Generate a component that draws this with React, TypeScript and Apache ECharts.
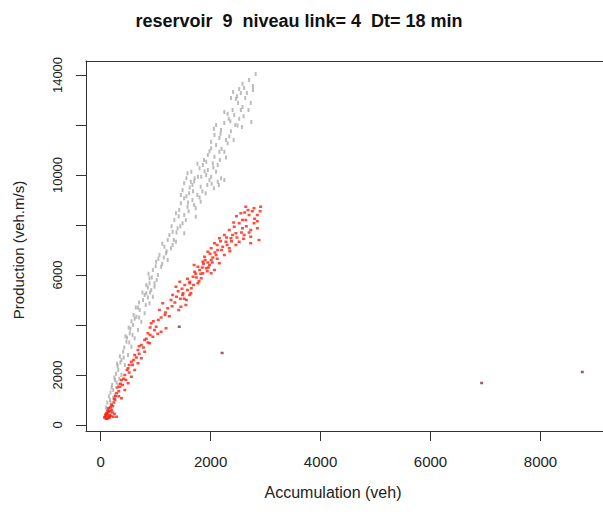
import React, { useEffect, useRef } from "react";
import * as echarts from "echarts";

const titleText = "reservoir  9  niveau link= 4  Dt= 18 min";
const xTitle = "Accumulation (veh)";
const yTitle = "Production (veh.m/s)";
const xTickValues = [0, 2000, 4000, 6000, 8000];
const yTickValues = [0, 2000, 4000, 6000, 8000, 10000, 12000, 14000];
const yLabelValues = [0, 2000, 6000, 10000, 14000];

// gray series: [accumulation, production]
const grayPoints: [number, number][] = [
  [2820, 14040], [2770, 13560], [2770, 13400], [2610, 13480], [2660, 13280], [2520, 13440],
  [2550, 13280], [2410, 13320], [2370, 13080], [2460, 13040], [2500, 12880], [2730, 12880],
  [2580, 12720], [2550, 12600], [2400, 12600], [2250, 12520], [2310, 12450], [2430, 12400],
  [2520, 12250], [2740, 12120], [2570, 11920], [2490, 11980], [2250, 12080], [2100, 12000],
  [2190, 11800], [2370, 11750], [2070, 11600], [2160, 11480], [2340, 11540], [2010, 11330],
  [2100, 11200], [2310, 11270], [2010, 11070], [2160, 10930], [1950, 10800], [2070, 10730],
  [2250, 10930], [1920, 10530], [2040, 10470], [2130, 10400], [1860, 10400], [1800, 10270],
  [1950, 10200], [2100, 10130], [1650, 10130], [1830, 9930], [2010, 9930], [2190, 9870],
  [1560, 9870], [1710, 9870], [1580, 10070], [1770, 9930], [1920, 10000], [1980, 9800],
  [2130, 9730], [2250, 9800], [1520, 9670], [1670, 9600], [1820, 9530], [2060, 9470],
  [1490, 9400], [1610, 9270], [1760, 9200], [1910, 9270], [1520, 9070], [1670, 9000],
  [1820, 8930], [1460, 8870], [1580, 8730], [1730, 8670], [1370, 8470], [1520, 8400],
  [1730, 8330], [1340, 8200], [1490, 8070], [1400, 7870], [1310, 7730], [1520, 7670],
  [1220, 7400], [1370, 7330], [1160, 7130], [1280, 7070], [1190, 6870], [1070, 6800],
  [1220, 6600], [1010, 6530], [1100, 6330], [950, 6200], [1040, 6000], [890, 5870],
  [980, 5670], [830, 5600], [920, 5400], [890, 5670], [980, 5530], [830, 5270],
  [950, 5130], [770, 5000], [890, 4870], [710, 4600], [800, 4470], [650, 4330],
  [740, 4130], [590, 4000], [680, 3800], [530, 3670], [620, 3470], [470, 3330],
  [560, 3130], [410, 2930], [500, 2800], [380, 2600], [440, 2400], [320, 2200],
  [380, 2000], [260, 1800], [320, 1600], [230, 1400], [260, 1200], [170, 1000],
  [200, 800], [140, 600], [1460, 9200], [1640, 9730], [1880, 10600], [2200, 11050],
  [2360, 12150], [2630, 13080], [1430, 8600], [1290, 7950], [1250, 7600], [1120, 7250],
  [1050, 6650], [870, 6050], [760, 5300], [700, 4900], [640, 4700], [560, 4150],
  [510, 3900], [450, 3550], [350, 2750], [300, 2450], [280, 2050], [210, 1600],
  [180, 1300], [120, 900], [110, 500], [160, 700], [600, 4400], [860, 5100],
  [1590, 8900], [1680, 9350], [1940, 9600], [2050, 10300], [1760, 10450], [2280, 11400],
  [2700, 13800], [2580, 13650], [2480, 13150], [2690, 12600], [2330, 12250], [2450, 12000],
  [2600, 12350], [2180, 11650], [2420, 11400], [2060, 11850], [2280, 10700], [1980, 10950],
  [2170, 10600], [1890, 10150], [2020, 9650], [1700, 9750], [1850, 9350], [2150, 9600],
  [1620, 9500], [1560, 9150], [1800, 9100], [1700, 8800], [1420, 8350], [1600, 8550],
  [1550, 8200], [1380, 7700], [1450, 7950], [1330, 7400], [1200, 6950], [1310, 7200],
  [1150, 6700], [1000, 6350], [1120, 6450], [930, 5900], [1020, 5800], [860, 5500],
  [800, 5200], [900, 5300], [680, 4700], [820, 4800], [620, 4250], [700, 4300],
  [540, 3850], [480, 3500], [580, 3600], [430, 3100], [520, 3300], [360, 2500],
  [420, 2700], [310, 2350], [250, 1900], [340, 1850], [200, 1500], [290, 1700],
  [150, 1150], [230, 1100], [100, 700], [130, 400], [90, 300], [180, 900],
];

// red series: [accumulation, production]
const redPoints: [number, number][] = [
  [2910, 8730], [2790, 8670], [2640, 8730], [2550, 8470], [2700, 8400], [2850, 8400],
  [2640, 8200], [2790, 8070], [2520, 8070], [2430, 7930], [2580, 7870], [2730, 7800],
  [2850, 7870], [2340, 7800], [2460, 7670], [2610, 7600], [2250, 7600], [2370, 7470],
  [2730, 7530], [2880, 7400], [2160, 7470], [2280, 7330], [2520, 7330], [2070, 7270],
  [2220, 7130], [2730, 7270], [2010, 7070], [2130, 7000], [2340, 7070], [1950, 6930],
  [2100, 6800], [2250, 6800], [1890, 6730], [2010, 6600], [1860, 6530], [1980, 6400],
  [2160, 6470], [1770, 6330], [1920, 6270], [2070, 6200], [1710, 6130], [1860, 6070],
  [2010, 6070], [1680, 5930], [1830, 5870], [1620, 5730], [1770, 5670], [1530, 5600],
  [1440, 5730], [1650, 5470], [1500, 5270], [1620, 5200], [1560, 5000], [1380, 5130],
  [1370, 5530], [1620, 5670], [1310, 5200], [1490, 5200], [1640, 5270], [1550, 4800],
  [1460, 4730], [1130, 4870], [1220, 4670], [1070, 4600], [920, 4070], [1010, 3930],
  [1190, 3870], [1100, 3730], [860, 3670], [950, 3530], [800, 3400], [740, 3200],
  [890, 3270], [680, 3000], [800, 2930], [620, 2800], [740, 2670], [560, 2530],
  [680, 2470], [500, 2270], [620, 2200], [440, 2000], [560, 1930], [380, 1800],
  [500, 1670], [350, 1530], [440, 1400], [290, 1270], [380, 1070], [260, 1000],
  [200, 800], [140, 670], [110, 470], [170, 400], [80, 330], [230, 330],
  [140, 530], [200, 600], [290, 330], [120, 250], [160, 300], [100, 380],
  [1900, 6600], [1950, 6500], [2040, 6700], [2080, 6900], [1850, 6300], [1800, 6200],
  [1940, 6150], [2200, 7000], [2300, 7200], [2400, 7600], [2480, 7500], [2580, 8200],
  [2680, 8600], [2650, 7950], [2420, 8100], [2120, 7200], [1990, 6850], [1740, 5900],
  [1700, 6400], [1580, 5400], [1450, 5050], [1350, 4900], [1280, 5000], [1170, 4400],
  [1050, 4200], [980, 3800], [900, 3900], [830, 3450], [700, 2850], [600, 2600],
  [520, 2100], [460, 1800], [400, 1600], [330, 1350], [270, 1150], [240, 900],
  [180, 700], [130, 580], [90, 420], [210, 500], [150, 350], [2900, 8550], [2800, 8250],
  [2470, 8350], [2620, 8500], [2760, 8550], [2850, 8150], [2700, 7700], [2560, 7700],
  [2380, 7350], [2460, 7200], [2600, 7450], [2180, 7350], [2290, 7500], [2350, 6950],
  [2030, 6500], [2120, 6650], [1870, 6450], [1820, 6050], [1960, 6300], [1730, 6050],
  [1790, 5750], [1690, 5600], [1580, 5850], [1480, 5450], [1410, 5350], [1520, 5050],
  [1420, 4600], [1300, 4750], [1180, 4500], [1250, 4350], [1100, 4300], [960, 4150],
  [1040, 3650], [900, 3600], [860, 3300], [780, 3100], [700, 3150], [650, 2700],
  [580, 2400], [520, 2400], [480, 2200], [420, 1850], [360, 1650], [300, 1500],
  [330, 1150], [250, 1050], [220, 750], [170, 550], [120, 450], [70, 300],
  [190, 350], [250, 450], [100, 250], [140, 300],
];

// darker isolated points: [accumulation, production]
const outlierPoints: [number, number][] = [
  [2210, 2880], [1430, 3930], [6930, 1680], [8760, 2120],
];

export default function App() {
  const ref = useRef<HTMLDivElement>(null);
  useEffect(() => {
    if (!ref.current) return;
    const chart = echarts.init(ref.current, null, { renderer: "svg" });
    const font = "Liberation Sans, Arial, sans-serif";
    const fmt = (v: number) => String(v);
    chart.setOption({
      animation: false,
      backgroundColor: "#ffffff",
      grid: {
        left: 86,
        top: 61,
        width: 520,
        height: 370,
      },
      xAxis: [
        {
          type: "value",
          position: "bottom",
          min: -266,
          max: 9137,
          splitLine: { show: false },
          axisLine: { show: true, onZero: false, lineStyle: { color: "#333", width: 1 } },
          axisTick: {
            show: true,
            length: 10,
            customValues: xTickValues,
            lineStyle: { color: "#333", width: 1 },
          },
          axisLabel: {
            customValues: xTickValues,
            formatter: fmt,
            margin: 23,
            fontSize: 15,
            fontFamily: font,
            color: "#222",
          },
        },
        {
          type: "value",
          position: "top",
          min: -266,
          max: 9137,
          splitLine: { show: false },
          axisLine: { show: true, onZero: false, lineStyle: { color: "#333", width: 1 } },
          axisTick: { show: false },
          axisLabel: { show: false },
        },
      ],
      yAxis: {
        type: "value",
        min: -240,
        max: 14560,
        splitLine: { show: false },
        axisLine: { show: true, onZero: false, lineStyle: { color: "#333", width: 1 } },
        axisTick: {
          show: true,
          length: 10,
          customValues: yTickValues,
          lineStyle: { color: "#333", width: 1 },
        },
        axisLabel: {
          customValues: yLabelValues,
          formatter: fmt,
          rotate: 90,
          margin: 22,
          fontSize: 13,
          fontFamily: font,
          color: "#222",
        },
      },
      graphic: [
        {
          type: "text",
          x: 299,
          y: 21,
          style: {
            text: titleText,
            textAlign: "center",
            textVerticalAlign: "middle",
            font: "bold 18px Liberation Sans, Arial, sans-serif",
            fill: "#111",
          },
        },
        {
          type: "text",
          x: 333,
          y: 492,
          style: {
            text: xTitle,
            textAlign: "center",
            textVerticalAlign: "middle",
            font: "16px Liberation Sans, Arial, sans-serif",
            fill: "#222",
          },
        },
        {
          type: "text",
          x: 18,
          y: 250,
          rotation: Math.PI / 2,
          style: {
            text: yTitle,
            textAlign: "center",
            textVerticalAlign: "middle",
            font: "15px Liberation Sans, Arial, sans-serif",
            fill: "#222",
          },
        },
      ],
      series: [
        {
          name: "gray",
          type: "scatter",
          data: grayPoints,
          symbol: "rect",
          symbolSize: [2, 4],
          itemStyle: { color: "#ababab" },
          silent: true,
        },
        {
          name: "red",
          type: "scatter",
          data: redPoints,
          symbol: "rect",
          symbolSize: [3, 2.5],
          itemStyle: { color: "#ff2010" },
          silent: true,
        },
        {
          name: "outliers",
          type: "scatter",
          data: outlierPoints,
          symbol: "rect",
          symbolSize: [3, 2.5],
          itemStyle: { color: "#8a3040" },
          silent: true,
        },
      ],
    });
    return () => chart.dispose();
  }, []);
  return (
    <div
      ref={ref}
      style={{ position: "fixed", left: 0, top: 0, width: 603, height: 518, background: "#fff" }}
    />
  );
}
